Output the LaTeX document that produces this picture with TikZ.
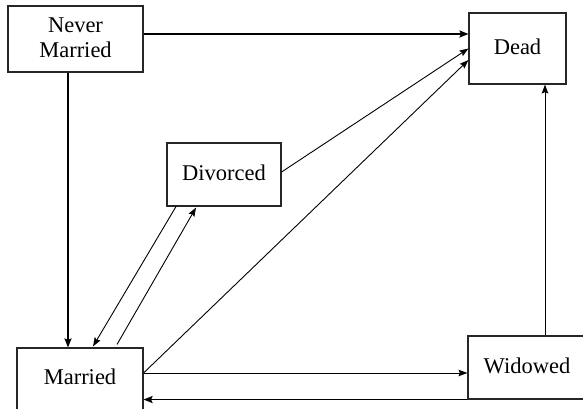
\documentclass[tikz,border=0pt]{standalone}
\usepackage{fontspec}
\setmainfont{Liberation Serif}
\usetikzlibrary{arrows.meta}
\begin{document}
\begin{tikzpicture}[x=1pt,y=-1pt,
  box/.style={draw=black!85,line width=1.1pt,rectangle,inner sep=0pt},
  lbl/.style={font=\fontsize{22.5}{25}\selectfont,align=center,inner sep=0pt},
  thin/.style={line width=0.9pt,-{Stealth[length=9pt,width=6.5pt,inset=1.5pt]}},
  thick/.style={line width=1.7pt,-{Stealth[length=9pt,width=7pt,inset=1.5pt]}}]
\useasboundingbox (0,0) rectangle (583,409);
\clip (0,0) rectangle (583,409);
% boxes
\node[box,minimum width=135pt,minimum height=66pt] (nm) at (75.5,39) {};
\node[lbl] (nmt) at (75.5,38) {Never\\Married};
\node[box,minimum width=97pt,minimum height=71pt] (dead) at (517.5,48.5) {};
\node[lbl] (deadt) at (517.5,47) {Dead};
\node[box,minimum width=114pt,minimum height=63pt] (div) at (224,174.5) {};
\node[lbl] (divt) at (224,173) {Divorced};
\node[box,minimum width=126pt,minimum height=80pt] (mar) at (80,388) {};
\node[lbl] (mart) at (80,377) {Married};
\node[box,minimum width=180pt,minimum height=63pt] (wid) at (558,367.5) {};
\node[lbl] (widt) at (527,366) {Widowed};
% connectors
\draw[thick] ([yshift=5pt]nm.east) -- ([yshift=5pt]nm.east -| dead.west);
\draw[thick] ([xshift=-7.5pt]nm.south) -- ([xshift=-7.5pt]nm.south |- mar.north);
\draw[thin] ([yshift=2.5pt]div.east) -- (dead.west);
\draw[thin] ([yshift=15pt]mar.east) -- ([yshift=-11.5pt]dead.west);
\draw[thin] ([yshift=15pt]mar.east) -- ([yshift=15pt]mar.east -| wid.west);
\draw[thick] (wid.south west) -- (wid.south west -| mar.east);
\draw[thin] ([xshift=-13pt]wid.north) -- ([xshift=-13pt]wid.north |- dead.south);
\draw[thin] ([xshift=-48pt]div.south) -- ([xshift=13pt,yshift=1pt]mar.north);
\draw[thin] ([xshift=37pt,yshift=3pt]mar.north) -- ([xshift=-28pt,yshift=-1pt]div.south);
\end{tikzpicture}
\end{document}
